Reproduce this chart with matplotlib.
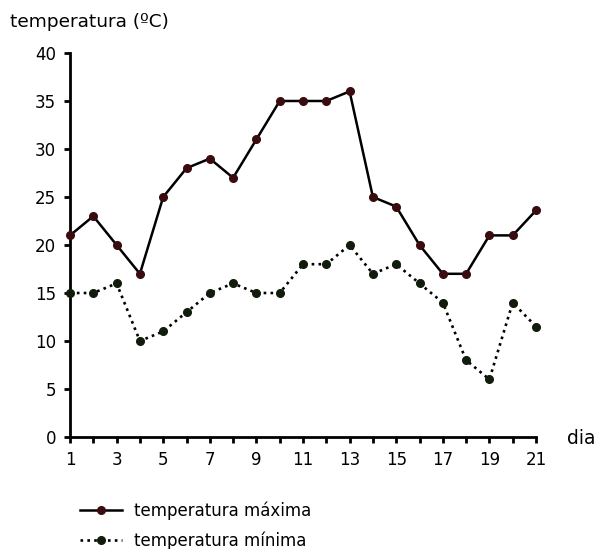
import matplotlib.pyplot as plt
from matplotlib.lines import Line2D

days = list(range(1, 22))
tempMax = [21, 23, 20, 17, 25, 28, 29, 27, 31, 35, 35, 35, 36, 25, 24, 20, 17, 17, 21, 21, 23.6]
tempMin = [15, 15, 16, 10, 11, 13, 15, 16, 15, 15, 18, 18, 20, 17, 18, 16, 14, 8, 6, 14, 11.5]
yTicks = [0, 5, 10, 15, 20, 25, 30, 35, 40]

maxColor = "#3a0c10"
minColor = "#121c0c"

fig = plt.figure(figsize=(6.01, 5.49), dpi=100)
ax = fig.add_axes([70/601, 1 - 437/549, (536 - 70)/601, (437 - 53)/549])

ax.plot(days, tempMax, color="black", lw=1.8, marker="o", markersize=5.5,
        markerfacecolor=maxColor, markeredgecolor=maxColor, clip_on=False, zorder=3)
ax.plot(days, tempMin, color="black", lw=1.9, linestyle=(0, (1, 1.6)), marker="o", markersize=5.5,
        markerfacecolor=minColor, markeredgecolor=minColor, clip_on=False, zorder=3)

ax.set_xlim(1, 21)
ax.set_ylim(0, 40)
ax.set_xticks(days)
# only odd days get a label
ax.set_xticklabels([str(d) if d % 2 == 1 else "" for d in days])
ax.set_yticks(yTicks)

for s in ["top", "right"]:
  ax.spines[s].set_visible(False)
for s in ["left", "bottom"]:
  ax.spines[s].set_linewidth(2)
ax.tick_params(axis="both", direction="out", length=4, width=2, labelsize=12, colors="black")
ax.tick_params(axis="x", pad=6)
ax.tick_params(axis="y", pad=6)

fig.text(10/601, 1 - 22/549, "temperatura (ºC)", fontsize=13.3, va="center", ha="left")
fig.text(567/601, 1 - 438/549, "dia", fontsize=13.5, va="center", ha="left")

handles = [
  Line2D([], [], color="black", lw=1.8, marker="o", markersize=5.5,
         markerfacecolor=maxColor, markeredgecolor=maxColor),
  Line2D([], [], color="black", lw=1.9, linestyle=(0, (1, 1.6)), marker="o", markersize=5.5,
         markerfacecolor=minColor, markeredgecolor=minColor),
]
fig.legend(handles, ["temperatura máxima", "temperatura mínima"], loc="upper left",
           bbox_to_anchor=(72/601, 1 - 493/549), frameon=False, fontsize=12,
           handlelength=2.5, handletextpad=0.7, labelspacing=0.7, borderpad=0)

fig.savefig("out.png", dpi=100)
